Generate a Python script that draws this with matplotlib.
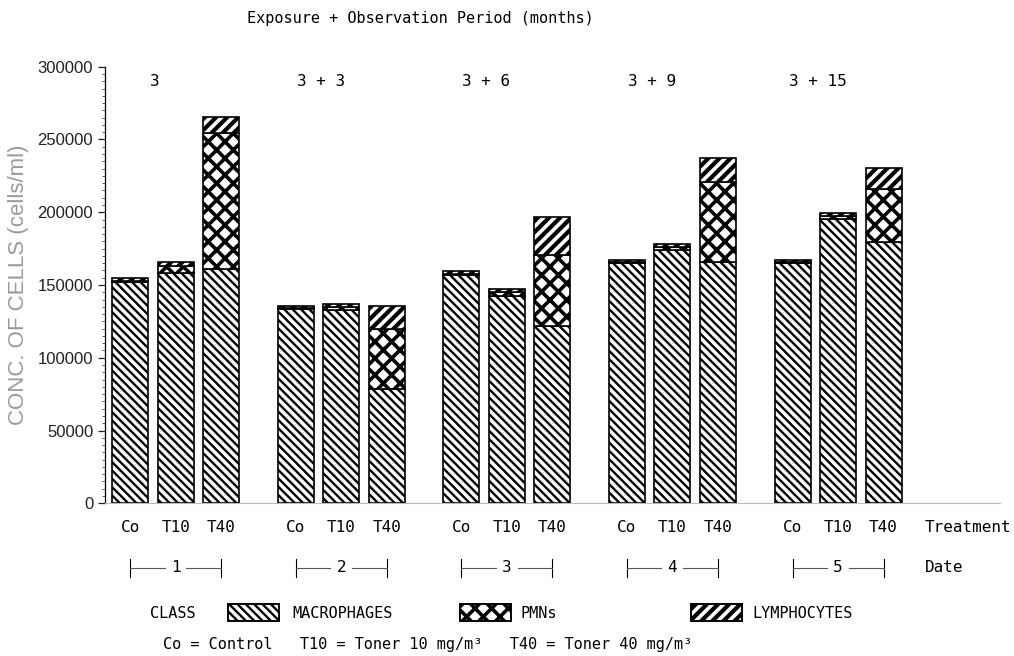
import matplotlib.pyplot as plt
import matplotlib.transforms as mtransforms
from matplotlib.patches import Rectangle
from matplotlib.ticker import MultipleLocator

# cell counts (cells/ml), stacked: macrophages / PMNs / lymphocytes
treatments = ['Co', 'T10', 'T40']
dates = ['1', '2', '3', '4', '5']
periods = ['3', '3 + 3', '3 + 6', '3 + 9', '3 + 15']

macrophages = [152000, 158000, 161000,
               133500, 132500, 78500,
               157000, 142500, 122000,
               165000, 174000, 166000,
               165000, 195500, 179500]
pmns = [500, 5000, 93500,
        500, 2500, 41000,
        500, 2500, 48500,
        500, 2000, 54500,
        500, 2000, 36500]
lymphocytes = [2000, 3000, 11000,
               1500, 2000, 16000,
               2000, 2000, 26500,
               2000, 2000, 16500,
               2000, 2000, 14500]

MONO = 'DejaVu Sans Mono'
GROUP_STEP = 3.64
WIDTH = 0.79

hatch_macro = '\\\\\\\\'
hatch_pmn = 'xx'
hatch_lymph = '///'
lw_macro, lw_pmn, lw_lymph = 1.7, 2.6, 3.0

fig = plt.figure(figsize=(10.14, 6.56), dpi=100)
ax = fig.add_axes([0.1036, 0.2328, 0.8826, 0.6655])

xs = []
for g in range(len(dates)):
    for j in range(len(treatments)):
        xs.append(g * GROUP_STEP + j)

bottom2 = [m + p for m, p in zip(macrophages, pmns)]

with plt.rc_context({'hatch.linewidth': lw_macro}):
    ax.bar(xs, macrophages, WIDTH, color='white', edgecolor='black',
           hatch=hatch_macro, linewidth=1.2)
with plt.rc_context({'hatch.linewidth': lw_pmn}):
    ax.bar(xs, pmns, WIDTH, bottom=macrophages, color='white',
           edgecolor='black', hatch=hatch_pmn, linewidth=1.2)
with plt.rc_context({'hatch.linewidth': lw_lymph}):
    ax.bar(xs, lymphocytes, WIDTH, bottom=bottom2, color='white',
           edgecolor='black', hatch=hatch_lymph, linewidth=1.2)

ax.set_xlim(-0.55, 19.12)
ax.set_ylim(0, 300000)
ax.yaxis.set_major_locator(MultipleLocator(50000))
ax.yaxis.set_minor_locator(MultipleLocator(5000))
ax.tick_params(axis='y', which='major', length=5, width=0.9,
               labelsize=12, colors='#222222')
ax.tick_params(axis='y', which='minor', length=2.5, width=0.6,
               color='#444444')
for lab in ax.get_yticklabels():
    lab.set_family('Liberation Sans')

ax.set_ylabel('CONC. OF CELLS (cells/ml)', family='Liberation Sans',
              fontsize=16, color='#9a9a9a', labelpad=6)

for side in ['top', 'right']:
    ax.spines[side].set_visible(False)
ax.spines['left'].set_linewidth(0.9)
ax.spines['bottom'].set_color('#bbbbbb')
ax.spines['bottom'].set_linewidth(0.8)

# treatment labels under each bar
ax.set_xticks(xs)
ax.set_xticklabels(treatments * len(dates), family=MONO, fontsize=11.5)
ax.tick_params(axis='x', length=0, pad=12)

# observation period above each group
for g, p in enumerate(periods):
    ax.text(g * GROUP_STEP + 0.55, 290000, p, ha='center', va='center',
            family=MONO, fontsize=11.5)

fig.text(0.415, 0.972, 'Exposure + Observation Period (months)',
         ha='center', va='center', family=MONO, fontsize=11)

# date brackets
trans = mtransforms.blended_transform_factory(ax.transData, fig.transFigure)
y_date = (656 - 568) / 656
dy = 9 / 656
for g, d in enumerate(dates):
    x0 = g * GROUP_STEP
    x1 = x0 + 2
    xm = x0 + 1
    ax.plot([x0, x0], [y_date - dy, y_date + dy], color='black', lw=0.8,
            transform=trans, clip_on=False)
    ax.plot([x1, x1], [y_date - dy, y_date + dy], color='black', lw=0.8,
            transform=trans, clip_on=False)
    ax.plot([x0, xm - 0.24], [y_date, y_date], color='#555555', lw=0.8,
            transform=trans, clip_on=False)
    ax.plot([xm + 0.24, x1], [y_date, y_date], color='#555555', lw=0.8,
            transform=trans, clip_on=False)
    ax.text(xm, y_date, d, ha='center', va='center', family=MONO,
            fontsize=11.5, transform=trans)

fig.text(925 / 1014, (656 - 527) / 656, 'Treatment', ha='left', va='center',
         family=MONO, fontsize=11.5)
fig.text(925 / 1014, y_date, 'Date', ha='left', va='center',
         family=MONO, fontsize=11.5)

# class key
y_leg = (656 - 613) / 656
fig.text(150 / 1014, y_leg, 'CLASS', ha='left', va='center',
         family=MONO, fontsize=11)
keys = [(228, 279, hatch_macro, lw_macro, 'MACROPHAGES', 292),
        (460, 511, hatch_pmn, lw_pmn, 'PMNs', 520),
        (691, 742, hatch_lymph, lw_lymph, 'LYMPHOCYTES', 752)]
for xa, xb, h, hlw, name, xt in keys:
    with plt.rc_context({'hatch.linewidth': hlw}):
        r = Rectangle((xa / 1014, (656 - 621) / 656), (xb - xa) / 1014,
                      17 / 656, transform=fig.transFigure, facecolor='white',
                      edgecolor='black', hatch=h, linewidth=1.4)
    fig.add_artist(r)
    fig.text(xt / 1014, y_leg, name, ha='left', va='center',
             family=MONO, fontsize=11)

fig.text(163 / 1014, (656 - 644) / 656,
         'Co = Control   T10 = Toner 10 mg/m³   T40 = Toner 40 mg/m³',
         ha='left', va='center', family=MONO, fontsize=11)

fig.savefig('out.png', dpi=100)
